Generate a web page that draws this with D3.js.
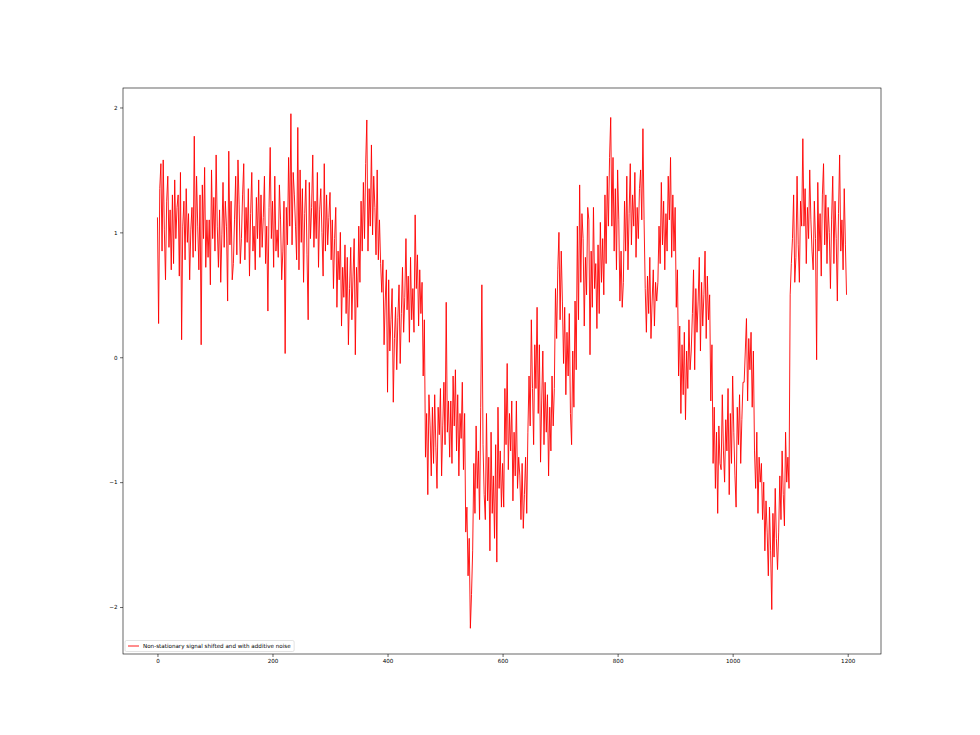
<!DOCTYPE html>
<html>
<head>
<meta charset="utf-8">
<script src="https://cdn.jsdelivr.net/npm/d3@7"></script>
<style>
  body { margin: 0; background: #fff; }
  text { font-family: "DejaVu Sans", sans-serif; }
</style>
</head>
<body>
<svg id="chart" width="980" height="735"></svg>
<script>
// x positions are 0, 2, 4, ... (step of 2 samples)
const xStep = 2;
const signalValues = [
  1.12, 0.27, 1.35, 1.55, 0.85, 1.58, 1.02, 0.62, 1.25, 1.45, 0.88, 1.18, 0.70, 1.30, 0.75,
  1.42, 0.95, 1.20, 1.30, 0.65, 1.48, 0.14, 1.05, 1.25, 0.78, 1.35, 0.92, 1.15, 0.62, 1.02,
  1.20, 0.80, 1.77, 0.85, 1.45, 1.05, 0.70, 1.30, 0.10, 1.38, 0.95, 1.52, 0.72, 1.10, 0.80,
  1.10, 0.58, 1.50, 0.95, 1.28, 0.85, 1.62, 1.05, 0.72, 1.18, 0.60, 0.98, 1.40, 0.88, 1.25,
  1.05, 0.45, 1.65, 0.90, 1.25, 0.62, 0.75, 1.10, 1.45, 0.82, 1.58, 1.22, 0.75, 0.95, 1.30,
  1.55, 0.78, 1.20, 0.92, 1.35, 0.65, 1.15, 1.48, 0.85, 1.05, 0.70, 1.28, 0.95, 1.42, 0.80,
  1.30, 0.88, 1.12, 1.45, 0.75, 1.05, 0.37, 1.20, 1.68, 0.95, 1.25, 0.72, 1.45, 0.85, 1.02,
  0.80, 1.38, 1.10, 0.62, 0.85, 1.25, 0.03, 1.20, 0.90, 1.60, 1.05, 1.95, 0.90, 1.48, 1.30,
  1.05, 0.78, 1.84, 0.70, 1.50, 0.92, 1.35, 0.60, 1.15, 1.42, 0.82, 0.30, 1.40, 0.95, 1.20,
  1.62, 0.88, 1.25, 0.95, 1.48, 0.72, 1.18, 1.35, 1.00, 0.65, 1.55, 0.85, 1.30, 0.90, 1.12,
  1.32, 0.78, 1.10, 0.55, 0.95, 1.20, 0.40, 0.85, 0.62, 1.00, 0.25, 0.72, 0.48, 0.90, 0.35,
  0.80, 0.10, 0.55, 0.88, 0.30, 0.65, 0.95, 0.02, 0.72, 0.40, 1.05, 0.60, 1.25, 0.85, 1.40,
  0.95, 1.55, 1.90, 0.85, 1.35, 1.05, 1.70, 0.98, 1.45, 1.20, 0.82, 1.50, 0.78, 1.10, 0.75,
  0.52, 0.78, 0.10, 0.45, 0.70, -0.28, 0.62, 0.05, 0.30, 0.55, -0.36, 0.15, 0.40, -0.10, 0.32,
  0.58, -0.05, 0.35, 0.72, 0.20, 0.48, 0.95, 0.38, 0.65, 0.12, 0.80, 0.30, 0.55, 0.20, 1.14,
  0.55, 0.82, 0.25, 0.70, 0.35, 0.60, -0.15, 0.30, -0.80, -0.45, -1.10, -0.30, -0.55, -0.95, -0.40,
  -0.85, -0.30, -0.72, -1.05, -0.40, -0.62, -0.25, -0.95, -0.55, -0.20, -0.70, 0.44, -0.60, -0.35, -0.80,
  -0.35, -0.85, -0.15, -0.55, -0.10, -0.75, -0.30, -0.95, -0.45, -0.65, -0.20, -0.90, -0.45, -1.40, -1.20,
  -1.75, -1.45, -2.17, -1.90, -1.55, -0.85, -1.25, -0.55, -1.05, -0.75, -1.30, -0.40, 0.58, -0.70, -1.10,
  -1.30, -0.45, -1.15, -0.80, -1.55, -0.60, -1.25, -0.95, -1.45, -0.70, -1.64, -0.40, -1.05, -0.75, -1.20,
  -0.85, -1.20, -0.25, -0.70, -0.05, -0.90, -0.45, -0.75, -0.35, -1.15, -0.60, -0.95, -0.35, -1.05, -0.80,
  -0.95, -1.30, -0.85, -1.37, -1.10, -0.80, -1.25, -0.60, -0.15, -0.55, 0.30, -0.25, -0.70, 0.10, -0.25,
  0.40, -0.45, 0.10, -0.84, -0.35, 0.05, -0.70, -0.20, -0.60, -0.30, -0.95, -0.40, -0.75, -0.15, -0.55,
  -0.25, 0.55, 0.15, 0.70, 1.00, 0.30, 0.85, 0.45, -0.05, 0.40, -0.30, 0.20, -0.15, 0.35, -0.45,
  -0.70, 0.05, -0.40, 0.45, -0.10, 1.05, 0.30, 1.38, 0.60, 1.15, 0.95, 0.25, 0.80, 0.50, 1.20,
  1.10, 0.02, 0.85, 0.40, 1.20, 0.55, 0.75, 0.23, 0.90, 0.35, 1.08, 0.60, 0.95, 0.50, 1.30,
  0.75, 1.45, 1.05, 1.60, 1.92, 1.05, 1.60, 0.85, 1.35, 0.70, 1.50, 1.10, 0.45, 0.85, 0.40,
  0.60, 1.25, 0.85, 1.45, 0.70, 1.15, 1.55, 0.90, 1.30, 1.05, 1.48, 0.80, 1.20, 0.95, 1.35,
  1.50, 1.10, 1.83, 1.10, 0.55, 0.20, 0.65, 0.35, 0.80, 0.15, 0.45, 0.70, 0.25, 0.60, 0.45,
  0.60, 1.05, 0.75, 1.40, 0.90, 1.25, 0.70, 1.15, 0.85, 1.45, 1.10, 1.60, 0.80, 1.30, 0.85,
  1.20, 0.40, 0.70, -0.15, 0.25, -0.45, 0.10, -0.30, 0.20, -0.50, 0.05, -0.25, 0.30, -0.10, 0.05,
  0.35, 0.70, -0.10, 0.55, 0.20, 0.45, 0.80, 0.05, 0.60, 0.25, 0.50, 0.85, 0.15, 0.65, 0.30,
  0.50, -0.35, 0.10, -0.85, -0.40, -1.05, -0.60, -1.25, -0.55, -0.85, -0.90, -0.30, -0.75, -1.00, -0.50,
  -0.75, -0.25, -1.10, -0.45, -0.85, -0.15, -0.60, -0.95, -1.20, -0.40, -0.70, -0.30, -0.85, -0.50, -0.20,
  -0.20, 0.05, 0.31, -0.35, 0.15, -0.10, 0.20, -0.40, 0.05, -0.75, -1.05, -0.60, -1.25, -0.80, -1.00,
  -0.85, -1.30, -1.00, -1.55, -1.15, -1.40, -1.75, -1.20, -1.55, -2.02, -1.25, -1.60, -1.05, -1.45, -1.70,
  -1.40, -0.95, -1.30, -0.75, -1.10, -1.35, -0.60, -1.00, -0.80, -1.05, 0.50, 0.75, 0.95, 1.30, 0.60,
  0.80, 1.45, 0.90, 0.60, 1.25, 1.05, 1.75, 1.05, 1.35, 0.75, 1.20, 0.95, 1.50, 1.10, 0.85,
  0.70, 1.25, 0.95, -0.02, 1.40, 0.85, 1.15, 0.65, 1.30, 1.55, 0.90, 1.30, 0.75, 1.20, 1.00,
  0.55, 1.10, 1.45, 0.75, 1.25, 0.95, 0.45, 1.15, 1.62, 0.85, 1.10, 0.70, 1.35, 0.90, 0.50
];
const xTicks = [0, 200, 400, 600, 800, 1000, 1200];
const yTicks = [-2, -1, 0, 1, 2];
const legendLabel = "Non-stationary signal shifted and with additive noise";

const data = signalValues.map((v, i) => ({ x: i * xStep, y: v }));

const svg = d3.select("#chart");
const plotL = 123, plotR = 881, plotT = 88, plotB = 654;

const xExt = d3.extent(data, d => d.x);
const yExt = d3.extent(data, d => d.y);
const xPad = (xExt[1] - xExt[0]) * 0.05;
const yPad = (yExt[1] - yExt[0]) * 0.05;
const x = d3.scaleLinear().domain([xExt[0] - xPad, xExt[1] + xPad]).range([plotL, plotR]);
const y = d3.scaleLinear().domain([yExt[0] - yPad, yExt[1] + yPad]).range([plotB, plotT]);

const fmt = d => (d < 0 ? "\u2212" + Math.abs(d) : String(d));

const g = svg.append("g");

// line
g.append("path")
  .datum(data)
  .attr("fill", "none")
  .attr("stroke", "#ff0000")
  .attr("stroke-width", 0.9)
  .attr("stroke-linejoin", "round")
  .attr("d", d3.line().x(d => x(d.x)).y(d => y(d.y)));

// axes
const xAxis = g.append("g").attr("transform", `translate(0,${plotB})`)
  .call(d3.axisBottom(x).tickValues(xTicks).tickFormat(fmt).tickSizeOuter(0).tickSize(3).tickPadding(2.5));
const yAxis = g.append("g").attr("transform", `translate(${plotL},0)`)
  .call(d3.axisLeft(y).tickValues(yTicks).tickFormat(fmt).tickSizeOuter(0).tickSize(3).tickPadding(2.5));
[xAxis, yAxis].forEach(a => {
  a.select(".domain").remove();
  a.selectAll("line").attr("stroke", "#000").attr("stroke-width", 0.6);
  a.selectAll("text").attr("font-size", 5.6).attr("fill", "#000")
    .attr("font-family", "DejaVu Sans, sans-serif");
});

// frame
g.append("rect")
  .attr("x", plotL).attr("y", plotT)
  .attr("width", plotR - plotL).attr("height", plotB - plotT)
  .attr("fill", "none").attr("stroke", "#000").attr("stroke-width", 0.6);

// legend
const lg = g.append("g");
const lgBox = lg.append("rect");
lg.append("line")
  .attr("x1", 128).attr("x2", 139).attr("y1", 646).attr("y2", 646)
  .attr("stroke", "#ff0000").attr("stroke-width", 0.9);
const lgText = lg.append("text")
  .attr("x", 143).attr("y", 648)
  .attr("font-size", 5.6).attr("fill", "#000")
  .text(legendLabel);
const tb = lgText.node().getBBox();
lgBox.attr("x", 125).attr("y", 640.5)
  .attr("width", tb.x + tb.width + 3 - 125).attr("height", 11)
  .attr("rx", 1.5).attr("fill", "#fff").attr("fill-opacity", 0.8)
  .attr("stroke", "#d0d0d0").attr("stroke-width", 0.6);
</script>
</body>
</html>
